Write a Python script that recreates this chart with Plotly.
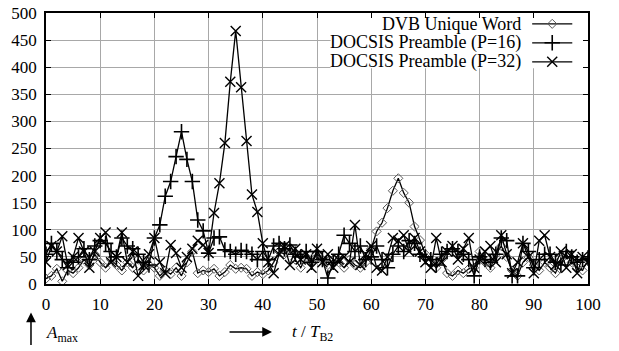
import plotly.graph_objects as go

t = list(range(0, 101))

dvb = [10, 15, 28, 5, 25, 20, 30, 45, 35, 55, 40,
       30, 45, 35, 25, 40, 30, 45, 25, 35, 30,
       15, 25, 18, 30, 15, 40, 60, 20, 25, 22,
       28, 15, 22, 35, 28, 30, 28, 15, 22, 18,
       25, 40, 60, 55, 65, 45, 30, 50, 40, 55,
       45, 35, 45, 40, 30, 45, 35, 30, 40, 65,
       97, 113, 140, 172, 195, 168, 150, 106, 81, 55,
       40, 30, 45, 20, 15, 25, 20, 28, 30, 60,
       40, 30, 55, 70, 50, 25, 15, 40, 50, 35,
       25, 40, 30, 20, 45, 55, 40, 30, 25, 45]

p16 = [55, 75, 60, 45, 30, 40, 50, 65, 45, 70, 80,
       75, 60, 50, 85, 70, 65, 55, 40, 35, 85,
       109, 162, 189, 235, 281, 230, 189, 118, 98, 57,
       85, 87, 63, 60, 55, 62, 60, 55, 45, 60,
       45, 70, 75, 65, 72, 55, 50, 60, 40, 60,
       45, 11, 40, 55, 90, 75, 60, 70, 45, 50,
       70, 45, 30, 55, 70, 60, 80, 75, 55, 50,
       45, 35, 55, 60, 65, 60, 55, 45, 15, 50,
       45, 40, 55, 85, 80, 15, 15, 75, 60, 30,
       45, 55, 55, 40, 35, 60, 50, 40, 45, 48]

p32 = [40, 70, 60, 88, 35, 50, 85, 60, 30, 60, 85,
       95, 40, 50, 95, 40, 60, 15, 35, 55, 85,
       40, 20, 72, 57, 30, 50, 65, 80, 72, 57,
       131, 186, 260, 373, 467, 363, 264, 165, 133, 75,
       40, 20, 55, 70, 35, 65, 45, 55, 30, 65,
       40, 55, 30, 45, 50, 40, 109, 35, 55, 70,
       30, 25, 50, 85, 80, 90, 60, 85, 60, 40,
       30, 85, 40, 60, 70, 45, 65, 85, 30, 45,
       60, 70, 40, 90, 55, 20, 40, 75, 50, 20,
       80, 90, 50, 35, 60, 30, 55, 20, 50, 40]

names = ["DVB Unique Word", "DOCSIS Preamble (P=16)", "DOCSIS Preamble (P=32)"]
x_ticks = list(range(0, 101, 10))
y_ticks = list(range(0, 501, 50))

FONT = "Times New Roman, Liberation Serif, DejaVu Serif, serif"

styles = [
    dict(symbol="diamond-open", size=7, color="#5a5a5a", line=dict(width=1, color="#5a5a5a")),
    dict(symbol="cross-thin", size=11, color="black", line=dict(width=1.6, color="black")),
    dict(symbol="x-thin", size=10, color="black", line=dict(width=1.4, color="black")),
]
series = [dvb, p16, p32]

fig = go.Figure()
for ys, st, nm in zip(series, styles, names):
    fig.add_trace(go.Scatter(x=t, y=ys, mode="lines+markers", name=nm,
                             line=dict(color="black", width=1.3),
                             marker=st, showlegend=False))

# gnuplot-style legend: right-aligned text, sample to the right
leg_y = [480, 445, 410]
for ly, st, nm in zip(leg_y, styles, names):
    fig.add_trace(go.Scatter(x=[89.7, 97.1], y=[ly, ly], mode="lines",
                             line=dict(color="black", width=1.3),
                             showlegend=False, hoverinfo="skip"))
    fig.add_trace(go.Scatter(x=[93.4], y=[ly], mode="markers", marker=st,
                             showlegend=False, hoverinfo="skip"))
    fig.add_annotation(x=88.0, y=ly, xref="x", yref="y", text=nm, showarrow=False,
                       xanchor="right", yanchor="middle",
                       font=dict(family=FONT, size=18, color="black"))

fig.add_shape(type="rect", x0=52.5, x1=99.5, y0=398, y1=497, xref="x", yref="y",
              fillcolor="white", line=dict(width=0), layer="between")

# bottom axis annotations
fig.add_annotation(x=-0.0277, y=-0.105, xref="paper", yref="paper", ax=0, ay=34,
                   text="", showarrow=True, arrowhead=2, arrowsize=1.3, arrowwidth=1.5,
                   arrowcolor="black")
fig.add_annotation(x=-0.003, y=-0.185, xref="paper", yref="paper",
                   text="<i>A</i><sub>max</sub>", showarrow=False, xanchor="left",
                   yanchor="middle", font=dict(family=FONT, size=17, color="black"))
fig.add_annotation(x=0.417, y=-0.177, xref="paper", yref="paper", ax=-44, ay=0,
                   text="", showarrow=True, arrowhead=2, arrowsize=1.3, arrowwidth=1.5,
                   arrowcolor="black")
fig.add_annotation(x=0.45, y=-0.18, xref="paper", yref="paper",
                   text="<i>t</i> / <i>T</i><sub>B2</sub>", showarrow=False, xanchor="left",
                   yanchor="middle", font=dict(family=FONT, size=17, color="black"))

axis_common = dict(showline=True, linecolor="black", linewidth=1.5, mirror="ticks",
                   ticks="inside", ticklen=5, tickwidth=1, tickcolor="black",
                   showgrid=True, gridcolor="#a8a8a8", gridwidth=1, zeroline=False,
                   automargin=False,
                   tickfont=dict(family=FONT, size=17, color="black"))
fig.update_xaxes(range=[0, 100], tickvals=x_ticks, ticktext=[str(v) for v in x_ticks],
                 ticklabelstandoff=4, **axis_common)
fig.update_yaxes(range=[0, 500], tickvals=y_ticks, ticktext=[str(v) for v in y_ticks],
                 ticklabelstandoff=4, **axis_common)

fig.update_layout(width=619, height=351, margin=dict(l=46, r=31, t=13, b=67),
                  plot_bgcolor="white", paper_bgcolor="white",
                  font=dict(family=FONT, color="black"), showlegend=False)

fig.write_html("out.html", config={"displayModeBar": False},
               post_script="document.body.style.margin='0';")
